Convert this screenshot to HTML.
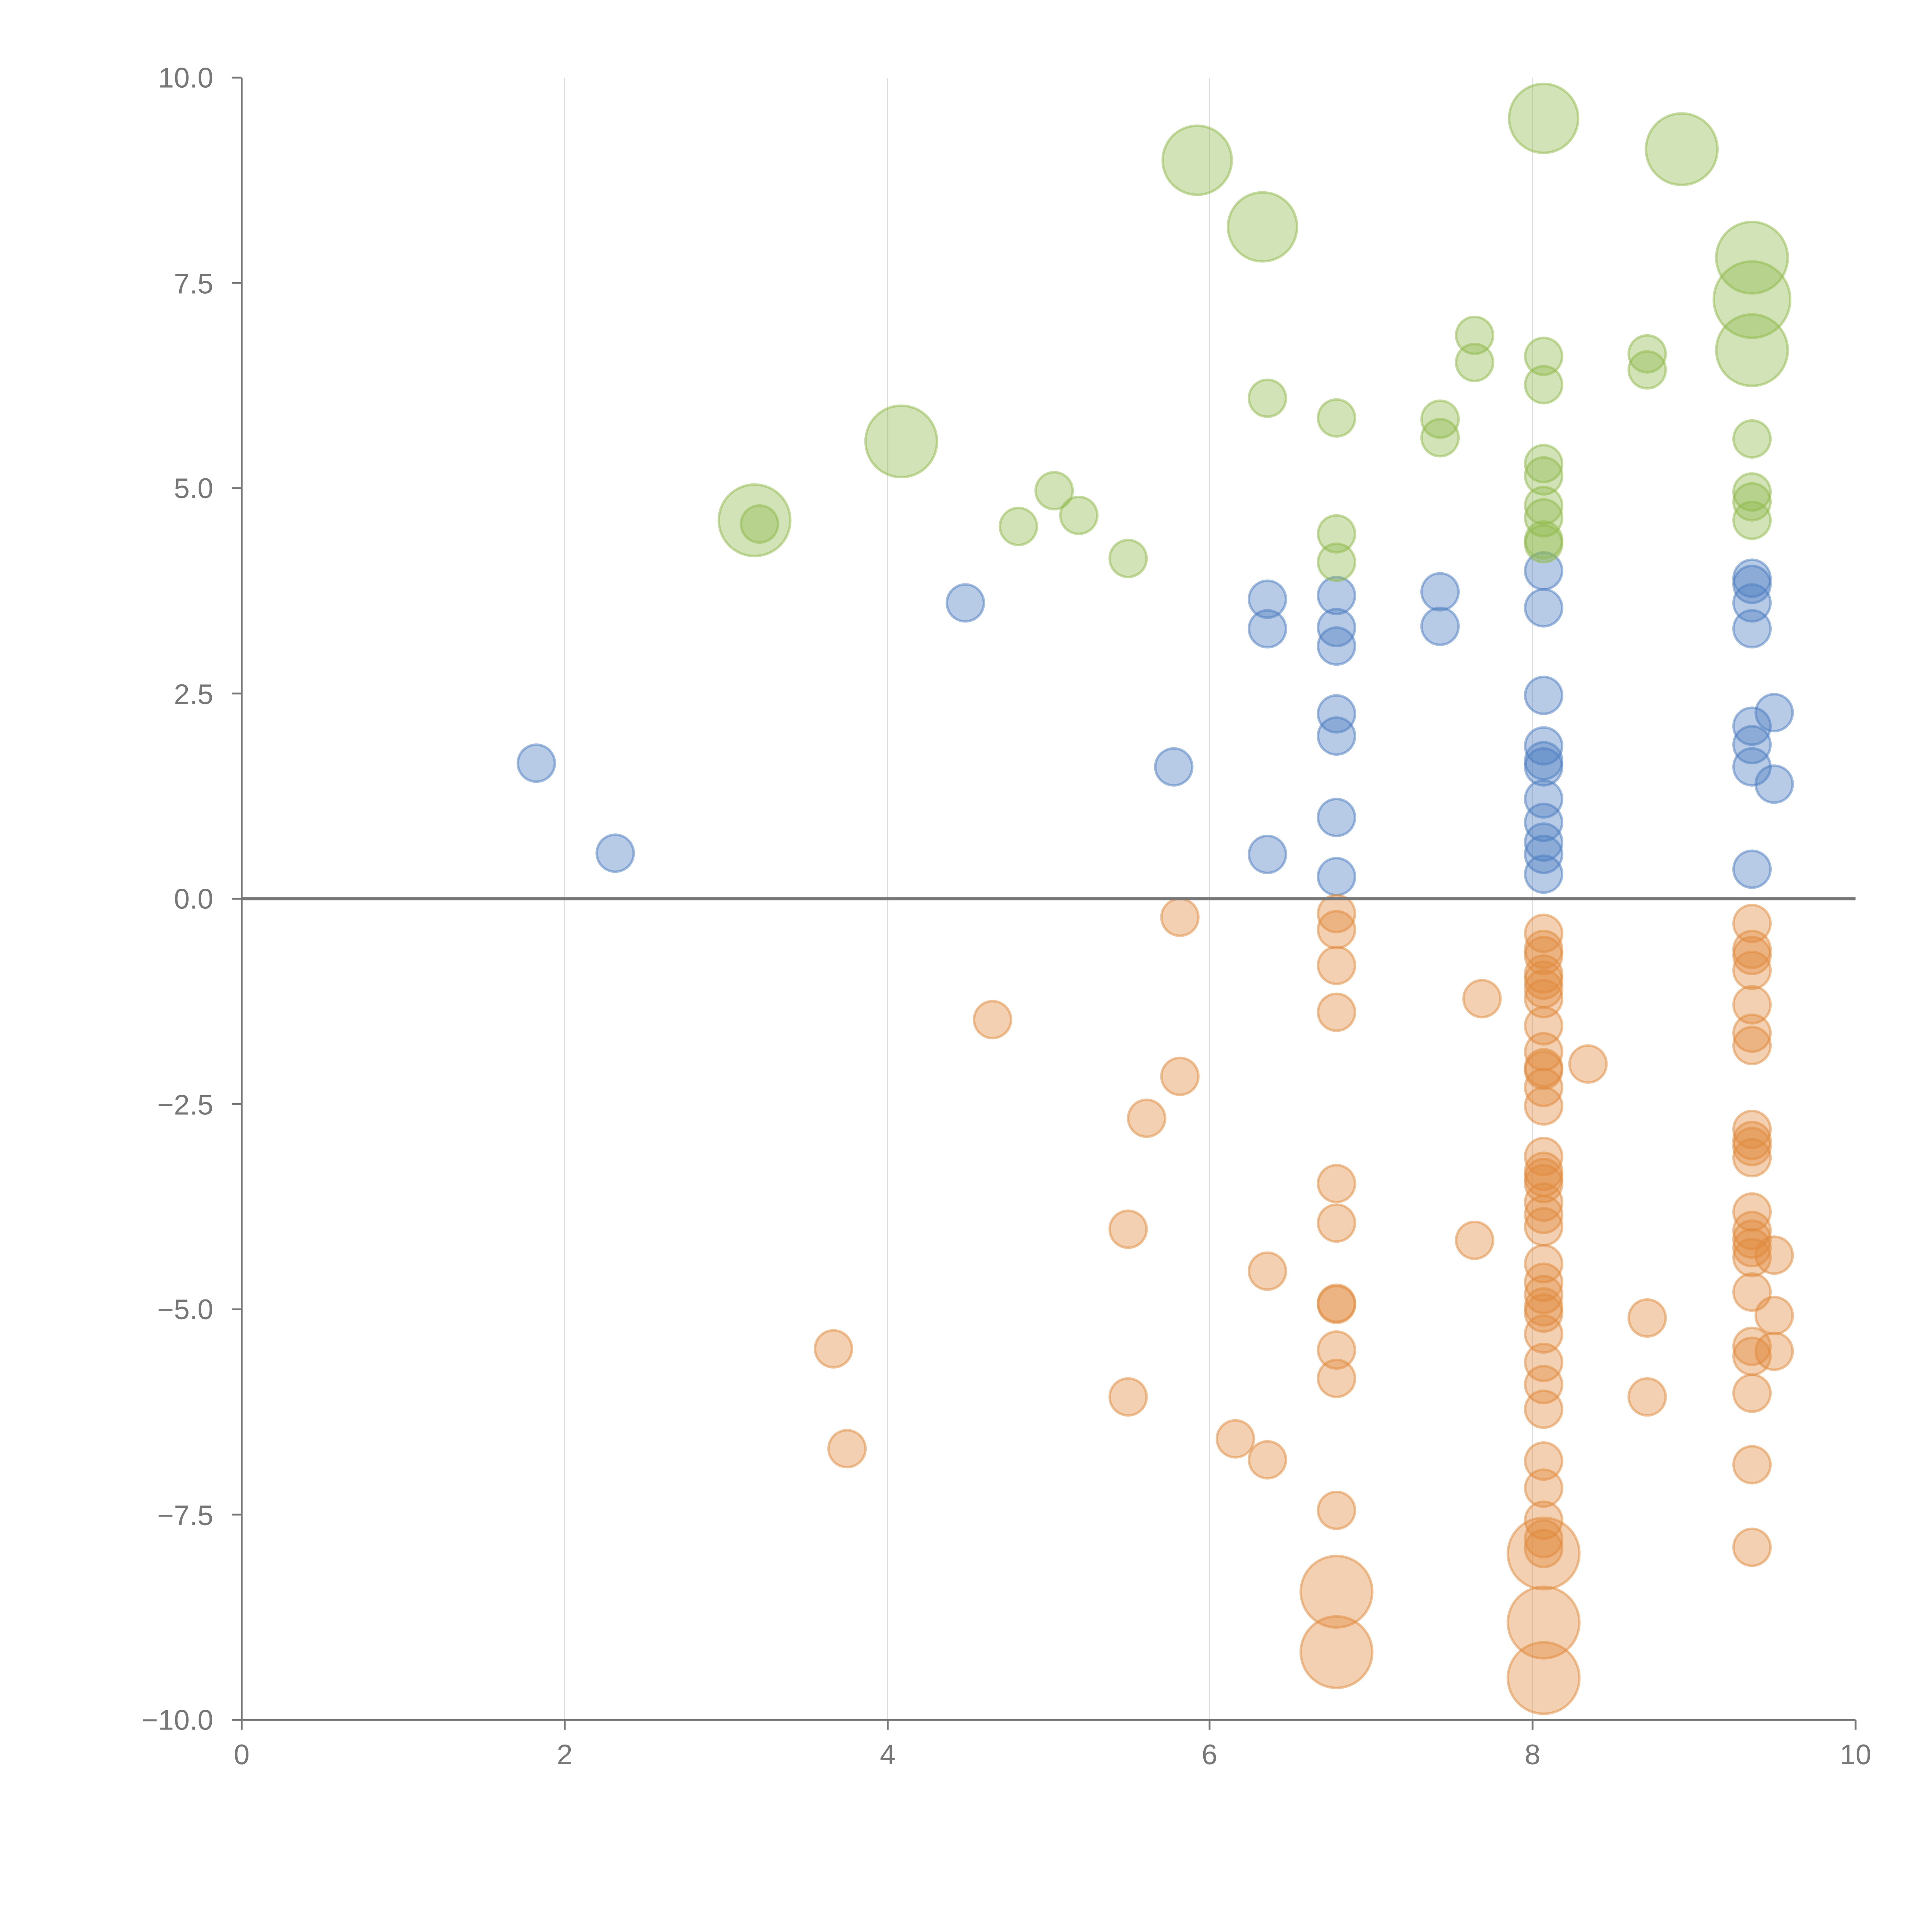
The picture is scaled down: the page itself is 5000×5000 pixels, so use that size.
<!DOCTYPE html>
<html><head><meta charset="utf-8"><style>html,body{margin:0;padding:0;background:#fff}svg{display:block}</style></head>
<body>
<svg width="5000" height="5000" viewBox="0 0 1567 1567" xmlns="http://www.w3.org/2000/svg" font-family="Liberation Sans, sans-serif">
<rect width="1567" height="1567" fill="#fff"/>
<g stroke="#ddd" stroke-width="1">
<line x1="458" y1="63" x2="458" y2="1395"/><line x1="720" y1="63" x2="720" y2="1395"/><line x1="981" y1="63" x2="981" y2="1395"/><line x1="1243" y1="63" x2="1243" y2="1395"/>
</g>
<g id="pts"></g>
<line x1="196" y1="729" x2="1505" y2="729" stroke="#777" stroke-width="2.5"/>
<g stroke="#777" stroke-width="1.5" fill="none">
<line x1="196" y1="63" x2="196" y2="1395"/><line x1="196" y1="1395" x2="1505" y2="1395"/>
<line x1="188" y1="63" x2="196" y2="63"/><line x1="188" y1="229.5" x2="196" y2="229.5"/><line x1="188" y1="396" x2="196" y2="396"/><line x1="188" y1="562.5" x2="196" y2="562.5"/><line x1="188" y1="729" x2="196" y2="729"/><line x1="188" y1="895.5" x2="196" y2="895.5"/><line x1="188" y1="1062" x2="196" y2="1062"/><line x1="188" y1="1228.5" x2="196" y2="1228.5"/><line x1="188" y1="1395" x2="196" y2="1395"/>
<line x1="196" y1="1395" x2="196" y2="1403"/><line x1="458" y1="1395" x2="458" y2="1403"/><line x1="720" y1="1395" x2="720" y2="1403"/><line x1="981" y1="1395" x2="981" y2="1403"/><line x1="1243" y1="1395" x2="1243" y2="1403"/><line x1="1505" y1="1395" x2="1505" y2="1403"/>
</g>
<g fill="#777" font-size="23" text-anchor="end">
<text x="173" y="71">10.0</text><text x="173" y="238">7.5</text><text x="173" y="404">5.0</text><text x="173" y="571">2.5</text><text x="173" y="737">0.0</text><text x="173" y="904">−2.5</text><text x="173" y="1070">−5.0</text><text x="173" y="1237">−7.5</text><text x="173" y="1403">−10.0</text>
</g>
<g fill="#777" font-size="23" text-anchor="middle">
<text x="196" y="1431">0</text><text x="458" y="1431">2</text><text x="720" y="1431">4</text><text x="981" y="1431">6</text><text x="1243" y="1431">8</text><text x="1505" y="1431">10</text>
</g>
<script>
const g=document.getElementById('pts');
function add(list,fill,stroke){for(const p of list){const c=document.createElementNS('http://www.w3.org/2000/svg','circle');c.setAttribute('cx',p[0]);c.setAttribute('cy',p[1]);c.setAttribute('r',p[2]||15);c.setAttribute('fill',fill);c.setAttribute('fill-opacity','0.4');c.setAttribute('stroke',stroke);c.setAttribute('stroke-opacity','0.5');c.setAttribute('stroke-width','2');g.appendChild(c);}}
const G=[[616,425],[826,427],[855,398],[875,418],[915,453],[1028,323],[1084,339],[1084,433],[1084,456],[1168,340],[1168,355],[1196,272],[1196,294],[1252,289],[1252,312],[1252,376],[1252,386],[1252,410],[1252,420],[1252,438],[1252,441],[1336,287],[1336,300],[1421,356],[1421,399],[1421,407],[1421,422],[612,422,29],[731,358,29],[971,130,28],[1024,184,28],[1252,96,28],[1364,121,29],[1421,209,29],[1421,243,31],[1421,284,29]];
const B=[[435,619],[499,692],[783,489],[952,622],[1028,486],[1028,510],[1028,693],[1084,483],[1084,509],[1084,524],[1084,579],[1084,597],[1084,663],[1084,711],[1168,480],[1168,508],[1252,463],[1252,493],[1252,564],[1252,605],[1252,617],[1252,622],[1252,648],[1252,667],[1252,683],[1252,693],[1252,709],[1421,469],[1421,474],[1421,489],[1421,510],[1421,589],[1421,604],[1421,622],[1421,705],[1439,578],[1439,636]];
const O=[[957,744],[805,827],[957,873],[930,907],[915,997],[1028,1031],[676,1094],[915,1133],[687,1175],[1002,1167],[1028,1184],[1084,741],[1084,754],[1084,783],[1084,821],[1084,960],[1084,992],[1084,1057],[1084,1058],[1084,1095],[1084,1118],[1084,1225],[1202,810],[1196,1006],[1288,863],[1336,1069],[1336,1133],[1439,1018],[1439,1067],[1439,1096]];
[757,770,775,790,795,802,810,832,853,866,868,882,897,938,950,955,960,975,985,995,1025,1040,1050,1060,1065,1082,1105,1123,1143,1185,1207,1233,1248,1256].forEach(y=>O.push([1252,y]));
[749,770,775,787,815,838,848,916,925,930,939,983,998,1005,1012,1020,1048,1092,1100,1130,1188,1255].forEach(y=>O.push([1421,y]));
O.push([1084,1291,29],[1084,1340,29],[1252,1260,29],[1252,1316,29],[1252,1361,29]);
add(B,'#4a7cc0','#4a7cc0');add(O,'#e08a3c','#e08a3c');add(G,'#8fba4a','#8fba4a');
</script>
</svg>
</body></html>
